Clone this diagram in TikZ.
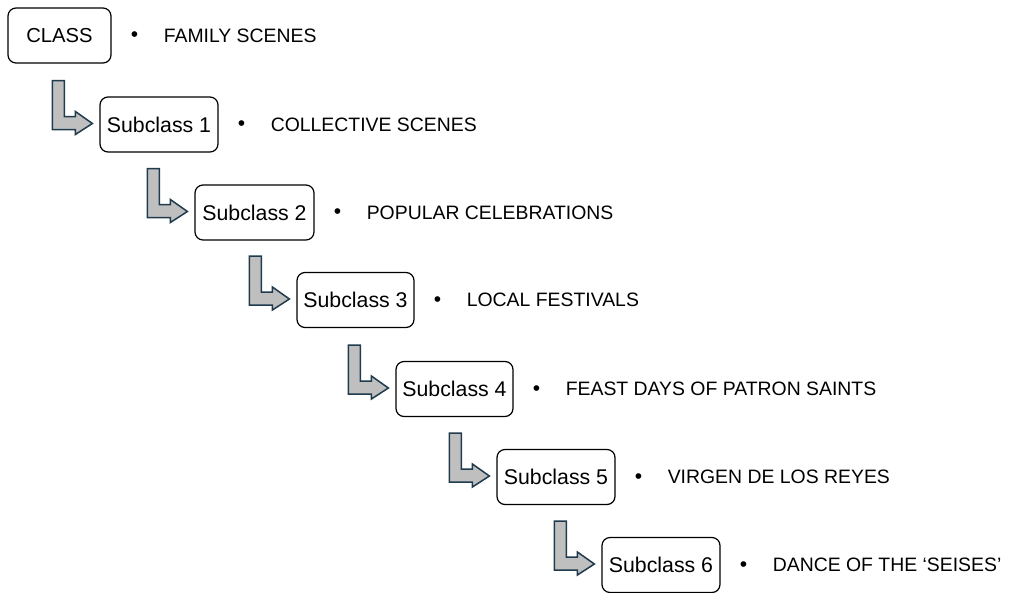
\documentclass[tikz,border=0pt]{standalone}
\usepackage{fontspec}
\setmainfont{Liberation Sans}
\definecolor{arrowline}{HTML}{1F3B4D}
\definecolor{arrowfill}{HTML}{BFBFBF}
\begin{document}
\begin{tikzpicture}[x=1pt,y=-1pt,
  box/.style={draw=black, rounded corners=8pt, line width=1.2pt, minimum height=55pt, inner sep=0pt, font=\fontsize{21.3}{24}\selectfont},
  item/.style={anchor=west, inner sep=0pt, font=\fontsize{19.4}{22}\selectfont},
  dot/.style={inner sep=0pt, yshift=-1.5pt, font=\fontsize{21}{24}\selectfont},
  bentarrow/.style={draw=arrowline, fill=arrowfill, line width=1.5pt, line join=miter}]
\useasboundingbox (0,0) rectangle (1012,592);
\node[box, minimum width=103pt, font=\fontsize{20.2}{24}\selectfont] (c) at (59.5,35.5) {CLASS};
\node[box, minimum width=118pt] (s1) at (159,124.5) {Subclass 1};
\node[box, minimum width=119pt] (s2) at (254.5,212.5) {Subclass 2};
\node[box, minimum width=117pt] (s3) at (355.5,300) {Subclass 3};
\node[box, minimum width=117pt] (s4) at (454.5,389) {Subclass 4};
\node[box, minimum width=118pt] (s5) at (556,477) {Subclass 5};
\node[box, minimum width=118pt] (s6) at (661,565) {Subclass 6};
\foreach \n/\t in {c/FAMILY SCENES, s1/COLLECTIVE SCENES, s2/POPULAR CELEBRATIONS, s3/LOCAL FESTIVALS, s4/FEAST DAYS OF PATRON SAINTS, s5/VIRGEN DE LOS REYES, s6/DANCE OF THE ‘SEISES’}{
  \node[dot] (d\n) at ([xshift=23pt]\n.east) {•};
  \node[item] (t\n) at ([xshift=52pt]\n.east) {\t};
}
\foreach \n in {s1,s2,s3,s4,s5,s6}{
  \draw[bentarrow] ([shift={(-47,-44)}]\n.west) -- ([shift={(-35,-44)}]\n.west)
    -- ([shift={(-35,-8)}]\n.west) -- ([shift={(-24,-8)}]\n.west)
    -- ([shift={(-24,-13)}]\n.west) -- ([shift={(-7,-1)}]\n.west)
    -- ([shift={(-24,10)}]\n.west) -- ([shift={(-24,5)}]\n.west)
    -- ([shift={(-47,5)}]\n.west) -- cycle;
}
\end{tikzpicture}
\end{document}
